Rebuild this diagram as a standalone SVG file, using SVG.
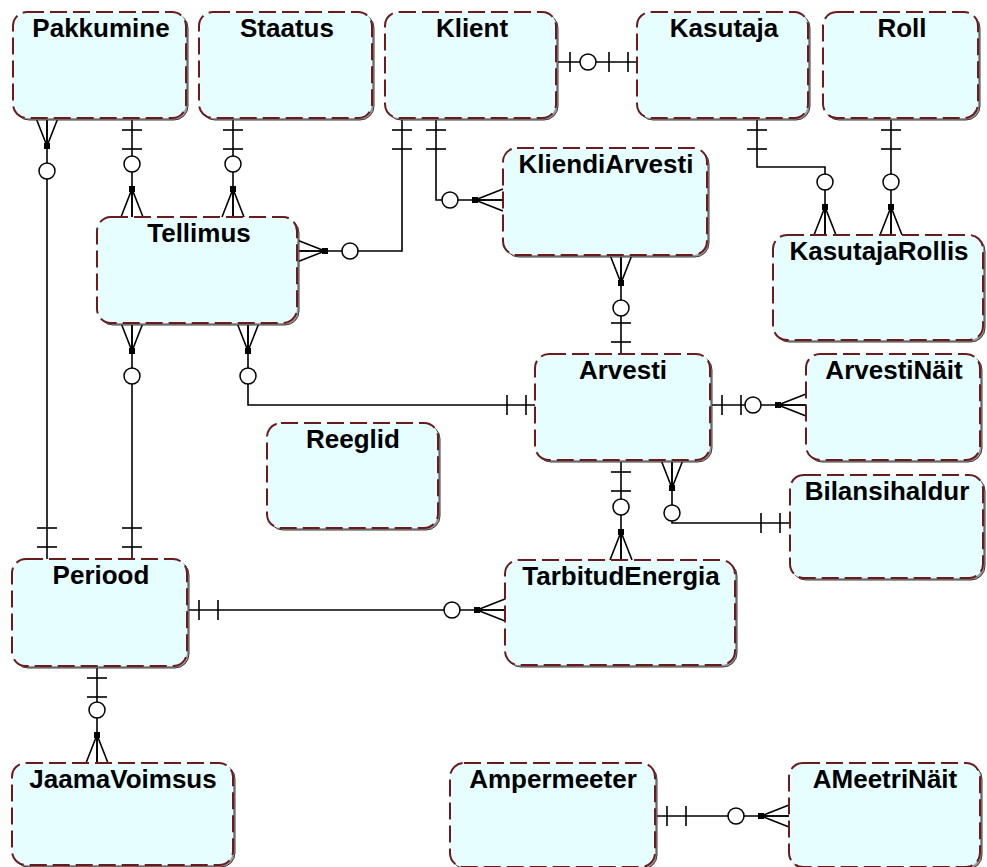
<svg xmlns="http://www.w3.org/2000/svg" xmlns:xlink="http://www.w3.org/1999/xlink" width="987" height="867" viewBox="0 0 987 867">
<style>
.sh{fill:#9a9a9a;stroke:#3a3a3a;stroke-width:1}
.bx{fill:#e6feff;stroke:#6b1b1b;stroke-width:2;stroke-dasharray:17 6}
.t{font-family:"Liberation Sans",Arial,sans-serif;font-weight:bold;font-size:26px;fill:#000;text-anchor:middle}
.ln{fill:none;stroke:#000;stroke-width:1.6}
.sym line,.sym path{stroke:#000;stroke-width:1.6;fill:none}
.sym circle{stroke:#000;stroke-width:1.5;fill:#fff}
.sym rect{fill:#000}
</style>
<defs>
<g id="crow" class="sym">
<path d="M0,-11 L28,0 L0,11 M0,0 L28,0"/>
<rect x="25" y="-3" width="6" height="6"/>
<circle cx="53" cy="0" r="8"/>
</g>
<g id="one2" class="sym">
<line x1="12" y1="-10" x2="12" y2="10"/>
<line x1="31" y1="-10" x2="31" y2="10"/>
</g>
<g id="zone" class="sym">
<line x1="14" y1="-10" x2="14" y2="10"/>
<circle cx="32" cy="0" r="8"/>
</g>
</defs>
<rect width="987" height="867" fill="#fff"/>
<g id="connectors">
<path class="ln" d="M47,118 V559"/>
<path class="ln" d="M132,118 V217"/>
<path class="ln" d="M233,118 V217"/>
<path class="ln" d="M402,118 V251 H297"/>
<path class="ln" d="M436,118 V200 H503"/>
<path class="ln" d="M556,62 H637"/>
<path class="ln" d="M757,118 V167 H825 V235"/>
<path class="ln" d="M891,118 V235"/>
<path class="ln" d="M621,255 V354"/>
<path class="ln" d="M132,323 V559"/>
<path class="ln" d="M248,323 V405 H535"/>
<path class="ln" d="M710,405 H806"/>
<path class="ln" d="M621,460 V560"/>
<path class="ln" d="M672,460 V523 H790"/>
<path class="ln" d="M187,610 H505"/>
<path class="ln" d="M97,666 V763"/>
<path class="ln" d="M655,816 H789"/>
<use xlink:href="#crow" transform="translate(47,118) rotate(90)"/>
<use xlink:href="#one2" transform="translate(47,559) rotate(-90)"/>
<use xlink:href="#one2" transform="translate(132,118) rotate(90)"/>
<use xlink:href="#crow" transform="translate(132,217) rotate(-90)"/>
<use xlink:href="#one2" transform="translate(233,118) rotate(90)"/>
<use xlink:href="#crow" transform="translate(233,217) rotate(-90)"/>
<use xlink:href="#one2" transform="translate(402,118) rotate(90)"/>
<use xlink:href="#crow" transform="translate(297,251)"/>
<use xlink:href="#one2" transform="translate(436,118) rotate(90)"/>
<use xlink:href="#crow" transform="translate(503,200) rotate(180)"/>
<use xlink:href="#zone" transform="translate(556,62)"/>
<use xlink:href="#one2" transform="translate(640,62) rotate(180)"/>
<use xlink:href="#one2" transform="translate(757,118) rotate(90)"/>
<use xlink:href="#crow" transform="translate(825,235) rotate(-90)"/>
<use xlink:href="#one2" transform="translate(891,118) rotate(90)"/>
<use xlink:href="#crow" transform="translate(891,235) rotate(-90)"/>
<use xlink:href="#crow" transform="translate(621,255) rotate(90)"/>
<use xlink:href="#one2" transform="translate(621,354) rotate(-90)"/>
<use xlink:href="#crow" transform="translate(132,323) rotate(90)"/>
<use xlink:href="#one2" transform="translate(132,559) rotate(-90)"/>
<use xlink:href="#crow" transform="translate(248,323) rotate(90)"/>
<use xlink:href="#one2" transform="translate(538,405) rotate(180)"/>
<use xlink:href="#one2" transform="translate(710,405)"/>
<use xlink:href="#crow" transform="translate(806,405) rotate(180)"/>
<use xlink:href="#one2" transform="translate(621,460) rotate(90)"/>
<use xlink:href="#crow" transform="translate(621,560) rotate(-90)"/>
<use xlink:href="#crow" transform="translate(672,460) rotate(90)"/>
<use xlink:href="#one2" transform="translate(792,523) rotate(180)"/>
<use xlink:href="#one2" transform="translate(187,610)"/>
<use xlink:href="#crow" transform="translate(505,610) rotate(180)"/>
<use xlink:href="#one2" transform="translate(97,666) rotate(90)"/>
<use xlink:href="#crow" transform="translate(97,763) rotate(-90)"/>
<use xlink:href="#one2" transform="translate(655,816)"/>
<use xlink:href="#crow" transform="translate(789,816) rotate(180)"/>
</g>
<g id="Pakkumine"><rect class="sh" x="15" y="14" width="173" height="106" rx="14"/><rect class="bx" x="13" y="12" width="173" height="106" rx="14"/><text class="t" x="101" y="37">Pakkumine</text></g>
<g id="Staatus"><rect class="sh" x="201" y="14" width="173" height="106" rx="14"/><rect class="bx" x="199" y="12" width="173" height="106" rx="14"/><text class="t" x="287" y="37">Staatus</text></g>
<g id="Klient"><rect class="sh" x="387" y="14" width="171" height="106" rx="14"/><rect class="bx" x="385" y="12" width="171" height="106" rx="14"/><text class="t" x="472" y="37">Klient</text></g>
<g id="Kasutaja"><rect class="sh" x="639" y="14" width="171" height="106" rx="14"/><rect class="bx" x="637" y="12" width="171" height="106" rx="14"/><text class="t" x="724" y="37">Kasutaja</text></g>
<g id="Roll"><rect class="sh" x="825" y="14" width="155" height="106" rx="14"/><rect class="bx" x="823" y="12" width="155" height="106" rx="14"/><text class="t" x="902" y="37">Roll</text></g>
<g id="Tellimus"><rect class="sh" x="99" y="219" width="200" height="106" rx="14"/><rect class="bx" x="97" y="217" width="200" height="106" rx="14"/><text class="t" x="199" y="242">Tellimus</text></g>
<g id="KliendiArvesti"><rect class="sh" x="505" y="150" width="204" height="107" rx="14"/><rect class="bx" x="503" y="148" width="204" height="107" rx="14"/><text class="t" x="606" y="173">KliendiArvesti</text></g>
<g id="KasutajaRollis"><rect class="sh" x="775" y="237" width="210" height="105" rx="14"/><rect class="bx" x="773" y="235" width="210" height="105" rx="14"/><text class="t" x="879" y="260">KasutajaRollis</text></g>
<g id="Arvesti"><rect class="sh" x="537" y="356" width="175" height="106" rx="14"/><rect class="bx" x="535" y="354" width="175" height="106" rx="14"/><text class="t" x="623" y="379">Arvesti</text></g>
<g id="ArvestiNait"><rect class="sh" x="808" y="356" width="174" height="106" rx="14"/><rect class="bx" x="806" y="354" width="174" height="106" rx="14"/><text class="t" x="894" y="379">ArvestiNäit</text></g>
<g id="Reeglid"><rect class="sh" x="269" y="425" width="171" height="105" rx="14"/><rect class="bx" x="267" y="423" width="171" height="105" rx="14"/><text class="t" x="353" y="448">Reeglid</text></g>
<g id="Bilansihaldur"><rect class="sh" x="792" y="477" width="193" height="103" rx="14"/><rect class="bx" x="790" y="475" width="193" height="103" rx="14"/><text class="t" x="887" y="500">Bilansihaldur</text></g>
<g id="Periood"><rect class="sh" x="14" y="561" width="175" height="107" rx="14"/><rect class="bx" x="12" y="559" width="175" height="107" rx="14"/><text class="t" x="101" y="584">Periood</text></g>
<g id="TarbitudEnergia"><rect class="sh" x="507" y="562" width="230" height="105" rx="14"/><rect class="bx" x="505" y="560" width="230" height="105" rx="14"/><text class="t" x="621" y="585">TarbitudEnergia</text></g>
<g id="JaamaVoimsus"><rect class="sh" x="14" y="765" width="221" height="102" rx="14"/><rect class="bx" x="12" y="763" width="221" height="102" rx="14"/><text class="t" x="123" y="788">JaamaVoimsus</text></g>
<g id="Ampermeeter"><rect class="sh" x="452" y="765" width="205" height="104" rx="14"/><rect class="bx" x="450" y="763" width="205" height="104" rx="14"/><text class="t" x="553" y="788">Ampermeeter</text></g>
<g id="AMeetriNait"><rect class="sh" x="791" y="765" width="191" height="104" rx="14"/><rect class="bx" x="789" y="763" width="191" height="104" rx="14"/><text class="t" x="885" y="788">AMeetriNäit</text></g>
</svg>
